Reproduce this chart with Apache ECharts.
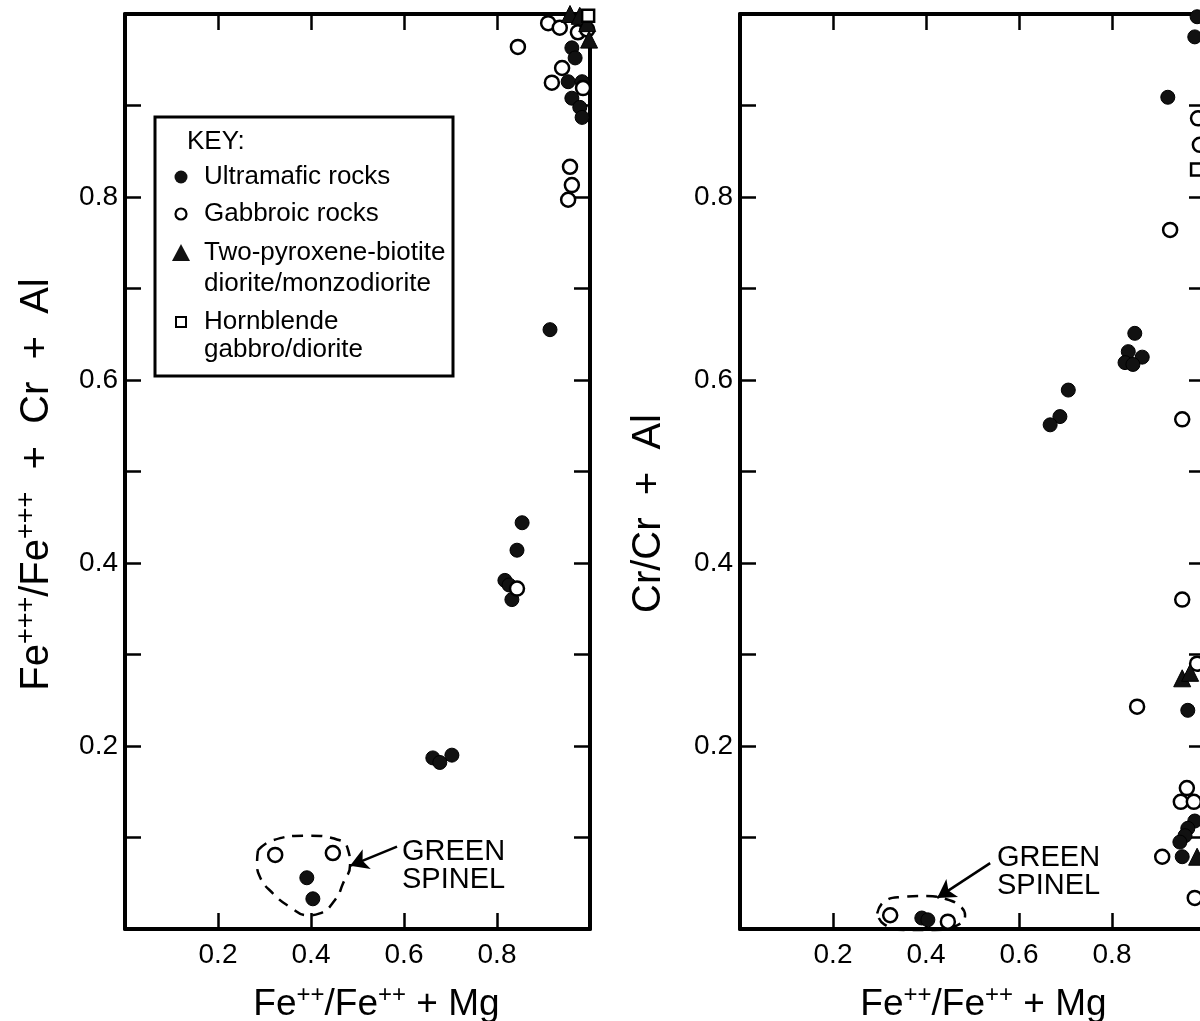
<!DOCTYPE html>
<html>
<head>
<meta charset="utf-8">
<script src="https://cdn.jsdelivr.net/npm/echarts@6/dist/echarts.min.js"></script>
<style>
  html, body { margin: 0; padding: 0; background: #fff; }
  #chart { width: 1200px; height: 1021px; }
</style>
</head>
<body>
<div id="chart"></div>
<script>
// tick labels
const xTickLabels = ['0.2', '0.4', '0.6', '0.8']
const yTickLabels = ['0.2', '0.4', '0.6', '0.8']

// left panel: Fe2+/(Fe2+ + Mg) vs Fe3+/(Fe3+ + Cr + Al)
const ultraLeft = [
  [0.961, 0.963], [0.968, 0.952], [0.953, 0.926], [0.983, 0.926], [0.961, 0.908],
  [0.978, 0.898], [0.983, 0.887], [0.914, 0.655], [0.854, 0.444], [0.843, 0.414],
  [0.817, 0.381], [0.826, 0.376], [0.832, 0.360], [0.662, 0.187], [0.677, 0.182],
  [0.703, 0.190], [0.391, 0.056], [0.404, 0.033],
]
const gabbroLeft = [
  [0.845, 0.964], [0.910, 0.990], [0.935, 0.985], [0.974, 0.980], [0.940, 0.941],
  [0.918, 0.925], [0.994, 0.983], [0.985, 0.919], [0.957, 0.833], [0.961, 0.813],
  [0.953, 0.797], [0.843, 0.372], [0.323, 0.081], [0.447, 0.083],
]
const dioriteLeft = [[0.957, 1.0], [0.978, 0.998], [0.994, 0.990], [0.998, 0.972]]
const hornLeft = [[0.996, 0.998]]
const loopLeft = [
  [0.286, 0.086], [0.318, 0.097], [0.391, 0.102], [0.462, 0.097], [0.480, 0.086],
  [0.484, 0.070], [0.469, 0.050], [0.452, 0.032], [0.419, 0.017], [0.394, 0.015],
  [0.355, 0.024], [0.318, 0.039], [0.290, 0.057], [0.284, 0.072], [0.286, 0.086],
]
const arrowLeft = [[0.585, 0.090], [0.484, 0.069]]

// right panel: Fe2+/(Fe2+ + Mg) vs Cr/(Cr + Al)
const ultraRight = [
  [0.983, 0.997], [0.978, 0.975], [0.920, 0.909], [0.849, 0.651], [0.835, 0.631],
  [0.865, 0.625], [0.828, 0.619], [0.845, 0.617], [0.706, 0.589], [0.688, 0.560],
  [0.667, 0.551], [0.963, 0.239], [0.978, 0.118], [0.963, 0.110], [0.957, 0.102],
  [0.946, 0.095], [0.951, 0.079], [0.391, 0.012], [0.404, 0.010],
]
const gabbroRight = [
  [0.985, 0.886], [0.989, 0.857], [0.925, 0.764], [0.951, 0.557], [0.951, 0.360],
  [0.983, 0.290], [0.854, 0.243], [0.961, 0.154], [0.948, 0.139], [0.976, 0.139],
  [0.908, 0.079], [0.978, 0.034], [0.323, 0.015], [0.447, 0.008],
]
const dioriteRight = [[0.951, 0.274], [0.968, 0.280], [0.983, 0.079]]
const hornRight = [[0.983, 0.830]]
const loopRight = [
  [0.295, 0.017], [0.310, 0.030], [0.348, 0.035], [0.398, 0.036], [0.441, 0.033],
  [0.473, 0.025], [0.484, 0.015], [0.467, 0.004], [0.419, -0.001], [0.355, -0.001],
  [0.310, 0.005], [0.295, 0.017],
]
const arrowRight = [[0.538, 0.072], [0.424, 0.034]]

const FONT = 'Liberation Sans'
const INK = '#000'

const chart = echarts.init(document.getElementById('chart'))

function fmtTick(list) {
  return (v) => {
    const s = Number(v).toFixed(1)
    return list.includes(s) ? s : ''
  }
}

const xNameRich = {
  b: { fontFamily: FONT, fontSize: 37, color: INK, lineHeight: 44 },
  s: { fontFamily: FONT, fontSize: 24, color: INK, verticalAlign: 'top', lineHeight: 40 },
}
const yNameRich = {
  b: { fontFamily: FONT, fontSize: 40, color: INK, lineHeight: 48 },
  s: { fontFamily: FONT, fontSize: 27, color: INK, verticalAlign: 'top', lineHeight: 44 },
}

const axisLine = { onZero: false, lineStyle: { color: INK, width: 4 } }
const axisTick = { inside: true, length: 16, lineStyle: { color: INK, width: 2.5 } }

function xAxes(gridIndex, name, shift) {
  return [
    {
      gridIndex, type: 'value', min: 0, max: 1, interval: 0.2, position: 'bottom',
      axisLine, axisTick, splitLine: { show: false },
      axisLabel: { formatter: fmtTick(xTickLabels), fontFamily: FONT, fontSize: 28, color: INK, margin: 12 },
      name, nameLocation: 'middle', nameGap: 54,
      nameTextStyle: { rich: xNameRich, padding: [0, 0, 0, shift] },
    },
    {
      gridIndex, type: 'value', min: 0, max: 1, interval: 0.2, position: 'top',
      axisLine, axisTick, splitLine: { show: false }, axisLabel: { show: false },
    },
  ]
}

function yAxes(gridIndex, name, gap, shift) {
  return [
    {
      gridIndex, type: 'value', min: 0, max: 1, interval: 0.1, position: 'left',
      axisLine, axisTick, splitLine: { show: false },
      axisLabel: { formatter: fmtTick(yTickLabels), fontFamily: FONT, fontSize: 28, color: INK, margin: 7 },
      name, nameLocation: 'middle', nameGap: gap, nameRotate: 90,
      nameTextStyle: { rich: yNameRich, padding: [0, shift, 0, 0] },
    },
    {
      gridIndex, type: 'value', min: 0, max: 1, interval: 0.1, position: 'right',
      axisLine, axisTick, splitLine: { show: false }, axisLabel: { show: false },
    },
  ]
}

function pointSeries(xi, yi, data, kind) {
  const base = { type: 'scatter', xAxisIndex: xi, yAxisIndex: yi, data, clip: false, z: 3 }
  if (kind === 'ultra') {
    return { ...base, symbol: 'circle', symbolSize: 14, itemStyle: { color: '#111', opacity: 1, borderColor: INK, borderWidth: 1 } }
  }
  if (kind === 'gabbro') {
    return { ...base, symbol: 'circle', symbolSize: 14, itemStyle: { color: '#fff', opacity: 1, borderColor: INK, borderWidth: 2.5 } }
  }
  if (kind === 'diorite') {
    return { ...base, symbol: 'triangle', symbolSize: 17, itemStyle: { color: '#111', opacity: 1, borderColor: INK, borderWidth: 1 } }
  }
  return { ...base, symbol: 'rect', symbolSize: 12, itemStyle: { color: '#fff', opacity: 1, borderColor: INK, borderWidth: 2.5 } }
}

function loopSeries(xi, yi, data, arrow) {
  return {
    type: 'line', xAxisIndex: xi, yAxisIndex: yi, data, smooth: 0.5, clip: false,
    symbol: 'none', silent: true, z: 2,
    lineStyle: { color: INK, width: 2.5, type: [11, 8] },
    markLine: {
      silent: true, symbol: ['none', 'arrow'], symbolSize: [16, 18],
      lineStyle: { color: INK, width: 2.5, type: 'solid' },
      label: { show: false },
      data: [[{ coord: arrow[0] }, { coord: arrow[1] }]],
    },
  }
}

const keyText = { fontFamily: FONT, fontSize: 26, fill: INK, verticalAlign: 'middle' }
const spinelText = { fontFamily: FONT, fontSize: 29, fill: INK, verticalAlign: 'middle' }

chart.setOption({
  backgroundColor: '#fff',
  animation: false,
  grid: [
    { left: 125, top: 14, width: 465, height: 915, outerBoundsMode: 'none' },
    { left: 740, top: 14, width: 465, height: 915, outerBoundsMode: 'none' },
  ],
  xAxis: [
    ...xAxes(0, '{b|Fe}{s|++}{b|/Fe}{s|++}{b| + Mg}', 38),
    ...xAxes(1, '{b|Fe}{s|++}{b|/Fe}{s|++}{b| + Mg}', 22),
  ],
  yAxis: [
    ...yAxes(0, '{b|Fe}{s|+++}{b|/Fe}{s|+++}{b|  +  Cr  +  Al}', 64, 26),
    ...yAxes(1, '{b|Cr/Cr  +  Al}', 67, 84),
  ],
  series: [
    loopSeries(0, 0, loopLeft, arrowLeft),
    pointSeries(0, 0, ultraLeft, 'ultra'),
    pointSeries(0, 0, gabbroLeft, 'gabbro'),
    pointSeries(0, 0, dioriteLeft, 'diorite'),
    pointSeries(0, 0, hornLeft, 'horn'),
    loopSeries(2, 2, loopRight, arrowRight),
    pointSeries(2, 2, ultraRight, 'ultra'),
    pointSeries(2, 2, gabbroRight, 'gabbro'),
    pointSeries(2, 2, dioriteRight, 'diorite'),
    pointSeries(2, 2, hornRight, 'horn'),
  ],
  graphic: [
    // key box
    { type: 'rect', shape: { x: 155, y: 117, width: 298, height: 259 }, style: { fill: '#fff', stroke: INK, lineWidth: 3 }, z: 10 },
    { type: 'text', x: 187, y: 142, style: { ...keyText, text: 'KEY:' }, z: 11 },
    { type: 'circle', shape: { cx: 181, cy: 177, r: 6.5 }, style: { fill: '#111' }, z: 11 },
    { type: 'text', x: 204, y: 177, style: { ...keyText, text: 'Ultramafic rocks' }, z: 11 },
    { type: 'circle', shape: { cx: 181, cy: 214, r: 5.5 }, style: { fill: '#fff', stroke: INK, lineWidth: 2.2 }, z: 11 },
    { type: 'text', x: 204, y: 214, style: { ...keyText, text: 'Gabbroic rocks' }, z: 11 },
    { type: 'polygon', shape: { points: [[181, 244], [172, 261], [190, 261]] }, style: { fill: '#111' }, z: 11 },
    { type: 'text', x: 204, y: 253, style: { ...keyText, text: 'Two-pyroxene-biotite' }, z: 11 },
    { type: 'text', x: 204, y: 284, style: { ...keyText, text: 'diorite/monzodiorite' }, z: 11 },
    { type: 'rect', shape: { x: 176, y: 317, width: 10, height: 10 }, style: { fill: '#fff', stroke: INK, lineWidth: 2 }, z: 11 },
    { type: 'text', x: 204, y: 322, style: { ...keyText, text: 'Hornblende' }, z: 11 },
    { type: 'text', x: 204, y: 350, style: { ...keyText, text: 'gabbro/diorite' }, z: 11 },
    // green spinel labels
    { type: 'text', x: 402, y: 852, style: { ...spinelText, text: 'GREEN' }, z: 11 },
    { type: 'text', x: 402, y: 880, style: { ...spinelText, text: 'SPINEL' }, z: 11 },
    { type: 'text', x: 997, y: 858, style: { ...spinelText, text: 'GREEN' }, z: 11 },
    { type: 'text', x: 997, y: 886, style: { ...spinelText, text: 'SPINEL' }, z: 11 },
  ],
})
</script>
</body>
</html>
